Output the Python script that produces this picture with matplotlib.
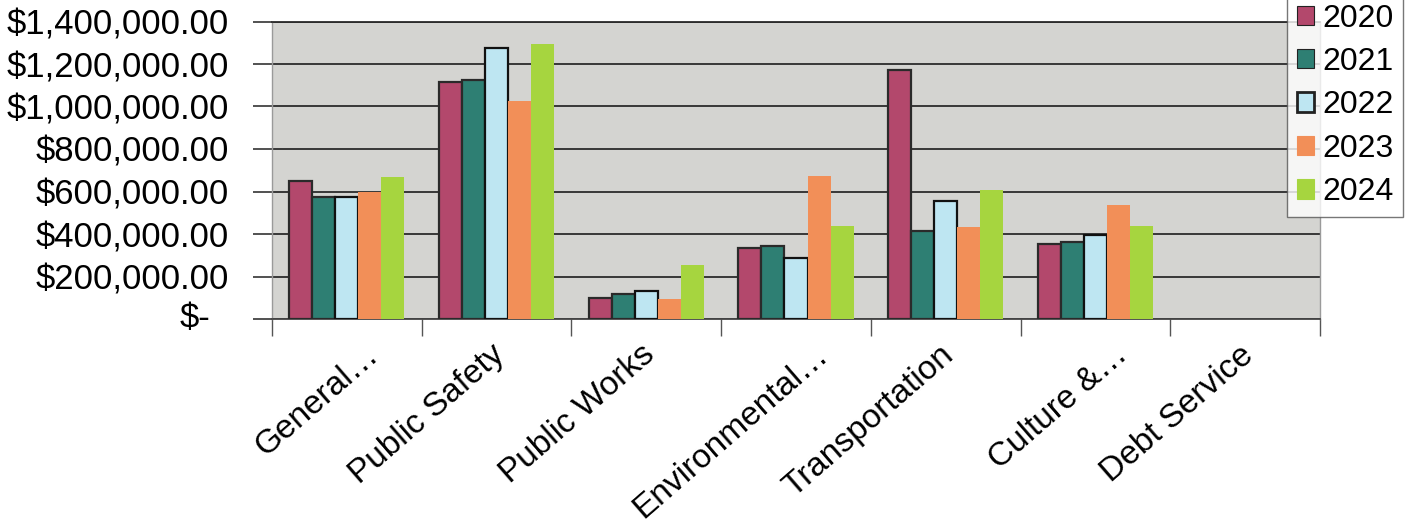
import matplotlib
matplotlib.use("Agg")
import matplotlib.pyplot as plt
import numpy as np
from matplotlib.patches import Patch
from matplotlib.ticker import FuncFormatter

categories = ["General…", "Public Safety", "Public Works", "Environmental…",
              "Transportation", "Culture &…", "Debt Service"]
years = ["2020", "2021", "2022", "2023", "2024"]

v2020 = [651000, 1114000, 100000, 336000, 1173000, 354000, 0]
v2021 = [576000, 1123000, 118000, 345000, 413000, 363000, 0]
v2022 = [574000, 1275000, 131000, 286000, 554000, 394000, 0]
v2023 = [596000, 1025000, 92000, 675000, 433000, 536000, 0]
v2024 = [667000, 1294000, 256000, 436000, 605000, 438000, 0]
series = [v2020, v2021, v2022, v2023, v2024]

colors = ["#B3486C", "#2E7F73", "#BEE6F2", "#F28F58", "#A6D53F"]
edges = ["#2a2a2a", "#2a2a2a", "#111111", "none", "none"]

plt.rcParams["font.family"] = ["Liberation Sans", "DejaVu Sans"]
FS_Y = 25
FS_X = 24
FS_LEG = 23

fig = plt.figure(figsize=(14.06, 5.23), dpi=100)
W, H = 1406, 523
ax = fig.add_axes([272 / W, 1 - 319 / H, (1320 - 272) / W, (319 - 21.5) / H])
ax.set_facecolor("#D4D4D1")

n = len(years)
bw = 1.0 / (n + 1.5)
x = np.arange(len(categories)) + 0.5
for i, (vals, c, e) in enumerate(zip(series, colors, edges)):
    off = (i - (n - 1) / 2) * bw
    bars = ax.bar(x + off, vals, width=bw, color=c, edgecolor=e,
                  linewidth=1.6 if e != "none" else 0, zorder=3, label=years[i])
    for b, v in zip(bars, vals):
        if v == 0:
            b.set_linewidth(0)

ax.set_xlim(0, len(categories))
ax.set_ylim(0, 1400000)

# value axis
ax.set_yticks(np.arange(0, 1400001, 200000))
def money(v, pos):
    if v == 0:
        return ""
    return "${:,.2f}".format(v)
ax.yaxis.set_major_formatter(FuncFormatter(money))
ax.tick_params(axis="y", direction="out", length=14, width=1.2,
               color="#333333", pad=17, labelsize=FS_Y)
ax.annotate("$-", xy=(0, 0), xycoords=("axes fraction", "data"),
            xytext=(-44.5, 0), textcoords="offset points",
            ha="right", va="center", fontsize=FS_Y)
ax.yaxis.grid(True, color="#2b2b2b", linewidth=1.3, zorder=1)
ax.set_axisbelow(True)

# category axis: ticks between categories, labels drawn at centers
ax.set_xticks(np.arange(len(categories) + 1))
ax.set_xticklabels([])
ax.tick_params(axis="x", direction="out", length=12, width=1.0,
               color="#555555")
for xc, name in zip(x, categories):
    dx = 20 if name.endswith("…") else 3
    ax.annotate(name, xy=(xc, 0), xycoords=("data", "axes fraction"),
                xytext=(dx, -23), textcoords="offset points",
                rotation=41, rotation_mode="anchor", ha="right", va="center",
                fontsize=FS_X, annotation_clip=False)

for side in ("left", "right"):
    ax.spines[side].set_color("#9a9a9a")
    ax.spines[side].set_linewidth(1.0)
ax.spines["top"].set_color("#2b2b2b")
ax.spines["top"].set_linewidth(1.3)
ax.spines["bottom"].set_color("#444444")
ax.spines["bottom"].set_linewidth(1.3)

handles = [Patch(facecolor=c, edgecolor=("#222222" if e != "none" else c),
                 linewidth=(2.0 if i == 2 else 0.8))
           for i, (c, e) in enumerate(zip(colors, edges))]
leg = fig.legend(handles, years, loc="upper left",
                 bbox_to_anchor=(1287 / W, 1 + 6 / H),
                 fontsize=FS_LEG, frameon=True, fancybox=False,
                 edgecolor="#555555", handlelength=0.55, handleheight=0.55,
                 handletextpad=0.25, labelspacing=0.42, borderpad=0.3,
                 borderaxespad=0)
leg.get_frame().set_linewidth(1.0)

fig.savefig("out.png", dpi=100, facecolor="white")
